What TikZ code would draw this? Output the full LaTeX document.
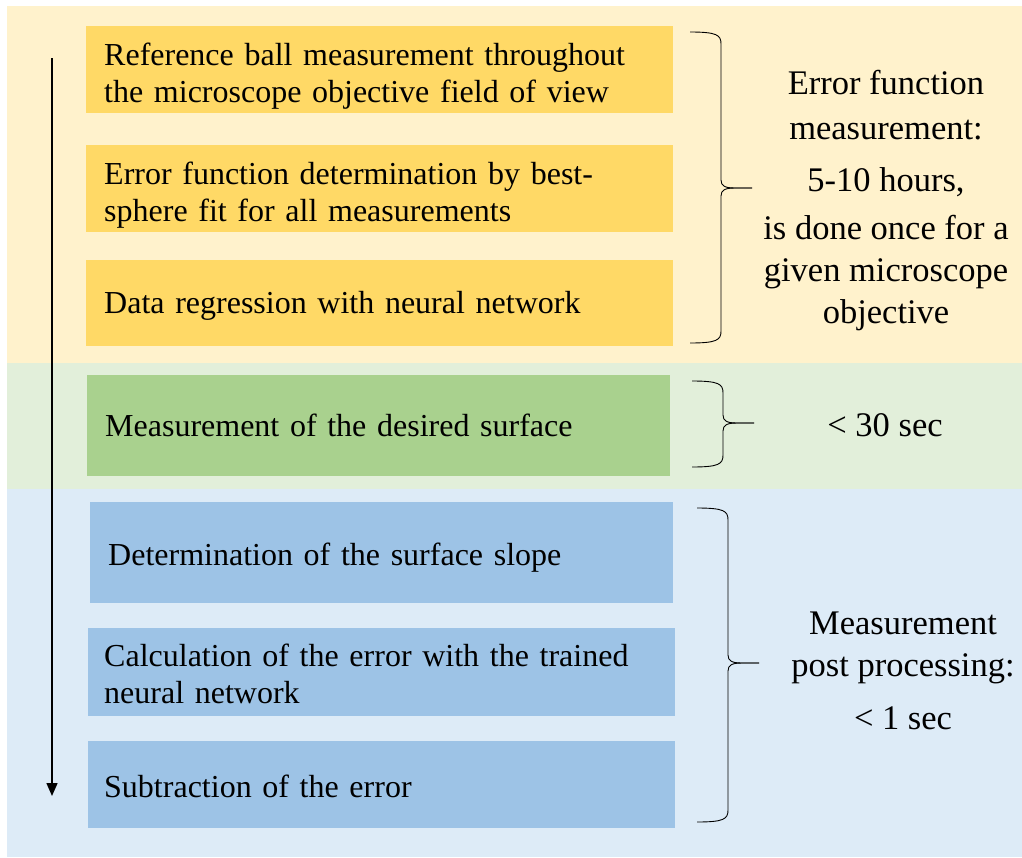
\documentclass[tikz,border=0pt]{standalone}
\usepackage{fontspec}
\setmainfont{Liberation Serif}
\usepackage{xcolor}
\usepackage{tikz}
\usetikzlibrary{arrows.meta,positioning}
\definecolor{bgyellow}{HTML}{FFF2CC}
\definecolor{boxyellow}{HTML}{FFD966}
\definecolor{bggreen}{HTML}{E2EFDA}
\definecolor{boxgreen}{HTML}{A9D18E}
\definecolor{bgblue}{HTML}{DDEBF7}
\definecolor{boxblue}{HTML}{9DC3E6}

\begin{document}
\begin{tikzpicture}[x=1pt, y=-1pt,
    every node/.style={font=\fontsize{32}{37}\selectfont},
    task/.style={anchor=west, inner xsep=18pt, inner ysep=0pt, align=left,
      text height=24pt, text depth=3pt},
    twoline/.style={text depth=32pt},
    note/.style={align=center, font=\fontsize{34.5}{42}\selectfont}]
  \useasboundingbox (0,0) rectangle (1022,857);
  % background bands
  \fill[bgyellow] (7,6) rectangle (1022,363);
  \fill[bggreen]  (7,363) rectangle (1022,489);
  \fill[bgblue]   (7,489) rectangle (1022,857);
  % steps
  \node[task, twoline, fill=boxyellow, text width=551pt, minimum height=87pt] (ref) at (86,69.5)
    {Reference ball measurement throughout\\the microscope objective field of view};
  \node[task, twoline, fill=boxyellow, text width=551pt, minimum height=87pt] (fit) at (86,188.5)
    {Error function determination by best-\\sphere fit for all measurements};
  \node[task, fill=boxyellow, text width=551pt, minimum height=86pt] (regr) at (86,303)
    {Data regression with neural network};
  \node[task, fill=boxgreen, text width=547pt, minimum height=101pt] (meas) at (87,425.5)
    {Measurement of the desired surface};
  \node[task, fill=boxblue, text width=547pt, minimum height=101pt, text height=29pt] (slope) at (90,552.5)
    {Determination of the surface slope};
  \node[task, twoline, fill=boxblue, inner xsep=16pt, text width=555pt, minimum height=88pt, text depth=35pt] (calc) at (88,672)
    {Calculation of the error with the trained\\neural network};
  \node[task, fill=boxblue, inner xsep=16pt, text width=555pt, minimum height=87pt, text height=29pt] (subtr) at (88,784.5)
    {Subtraction of the error};
  % time arrow
  \coordinate (start) at (52,58);
  \coordinate (stop) at (52,796);
  \draw[line width=1.5pt, -{Triangle[width=11pt,length=13pt]}] (start) -- (stop);
  % braces
  \foreach \xl/\t/\m/\b in {690/32/188/343, 692/381/423/467, 697/508/663/822} {
    \draw[line width=0.9pt] (\xl,\t) .. controls (\xl+27,\t) and (\xl+31,\t+3) .. (\xl+31,\t+12)
      -- (\xl+31,\m-8) .. controls (\xl+31,\m-2) and (\xl+35,\m) .. (\xl+45,\m) -- (\xl+62,\m);
    \draw[line width=0.9pt] (\xl+62,\m) -- (\xl+45,\m) .. controls (\xl+35,\m) and (\xl+31,\m+2) .. (\xl+31,\m+8)
      -- (\xl+31,\b-12) .. controls (\xl+31,\b-3) and (\xl+27,\b) .. (\xl,\b);
  }
  % durations
  \node[note] (errlbl) at (886,201)
    {Error function\\[3pt]measurement:\\[10pt]5-10 hours,\\[6pt]is done once for a\\given microscope\\objective};
  \node[note] (fastlbl) at (885,425) {< 30 sec};
  \node[note] (postlbl) at (903,671) {Measurement\\post processing:\\[11pt]< 1 sec};
\end{tikzpicture}
\end{document}
